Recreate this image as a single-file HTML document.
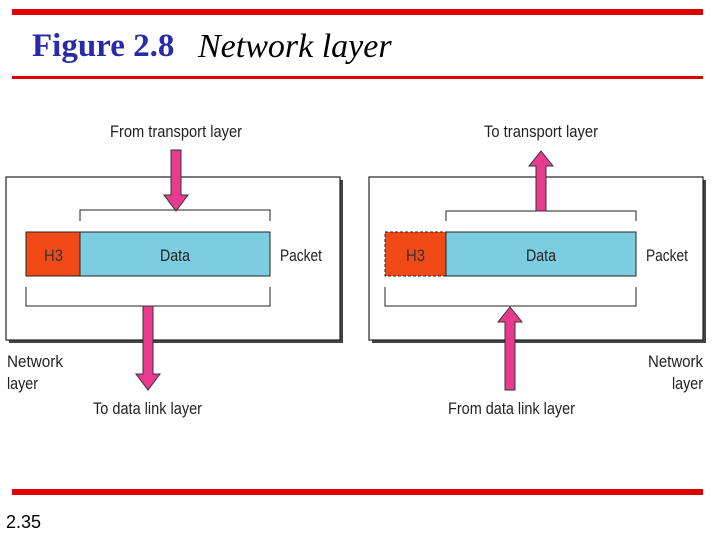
<!DOCTYPE html>
<html><head><meta charset="utf-8"><style>
body{margin:0;width:720px;height:540px;background:#fff;overflow:hidden;position:relative}
.t{position:absolute;white-space:nowrap}
</style></head><body>
<div style="position:absolute;left:12px;top:9px;width:691px;height:6px;background:#e00000"></div>
<div class="t" style="left:32px;top:28px;font:bold 33px 'Liberation Serif',serif;color:#2a2aa8">Figure 2.8</div>
<div class="t" style="left:198px;top:28px;font:italic 34px 'Liberation Serif',serif;color:#000">Network layer</div>
<div style="position:absolute;left:12px;top:76px;width:691px;height:3px;background:#e00000"></div>
<div style="position:absolute;left:12px;top:489px;width:691px;height:6px;background:#e00000"></div>
<div class="t" style="left:6px;top:512px;font:18px 'Liberation Sans',sans-serif">2.35</div>
<svg width="720" height="540" style="position:absolute;left:0;top:0" font-family="Liberation Sans, sans-serif" font-size="17">
<!-- left -->
<rect x="9" y="180" width="334" height="163" fill="#444"/>
<rect x="6" y="177" width="334" height="163" fill="#fff" stroke="#222" stroke-width="1.2"/>
<path d="M80 221V210H270V221" fill="none" stroke="#222"/>
<path d="M26 287V306H270V287" fill="none" stroke="#222"/>
<rect x="26" y="232" width="54" height="44" fill="#f24a17" stroke="#222"/>
<rect x="80" y="232" width="190" height="44" fill="#7dcde0" stroke="#222"/>
<text x="44" y="261" textLength="19" lengthAdjust="spacingAndGlyphs" fill="#333">H3</text>
<text x="160" y="261" textLength="30" lengthAdjust="spacingAndGlyphs" fill="#222">Data</text>
<text x="280" y="261" textLength="42" lengthAdjust="spacingAndGlyphs" fill="#222">Packet</text>
<polygon points="171,150 181,150 181,195 188,195 176,211 164,195 171,195" fill="#e83b8f" stroke="#333"/>
<polygon points="143,306 153,306 153,374 160,374 148,390 136,374 143,374" fill="#e83b8f" stroke="#333"/>
<text x="110" y="137" textLength="132" lengthAdjust="spacingAndGlyphs" fill="#222">From transport layer</text>
<text x="93" y="414" textLength="109" lengthAdjust="spacingAndGlyphs" fill="#222">To data link layer</text>
<text x="7" y="367" textLength="56" lengthAdjust="spacingAndGlyphs" fill="#222">Network</text>
<text x="7" y="389" textLength="31" lengthAdjust="spacingAndGlyphs" fill="#222">layer</text>
<!-- right -->
<rect x="372" y="180" width="334" height="163" fill="#444"/>
<rect x="369" y="177" width="334" height="163" fill="#fff" stroke="#222" stroke-width="1.2"/>
<path d="M446 221V211H636V221" fill="none" stroke="#222"/>
<path d="M385 287V306H636V287" fill="none" stroke="#222"/>
<rect x="385" y="232" width="61" height="44" fill="#f24a17" stroke="#222" stroke-dasharray="3,2"/>
<rect x="446" y="232" width="190" height="44" fill="#7dcde0" stroke="#222"/>
<text x="406" y="261" textLength="19" lengthAdjust="spacingAndGlyphs" fill="#333">H3</text>
<text x="526" y="261" textLength="30" lengthAdjust="spacingAndGlyphs" fill="#222">Data</text>
<text x="646" y="261" textLength="42" lengthAdjust="spacingAndGlyphs" fill="#222">Packet</text>
<polygon points="536,211 546,211 546,166 553,166 541,151 529,166 536,166" fill="#e83b8f" stroke="#333"/>
<polygon points="505,390 515,390 515,322 522,322 510,307 498,322 505,322" fill="#e83b8f" stroke="#333"/>
<text x="484" y="137" textLength="114" lengthAdjust="spacingAndGlyphs" fill="#222">To transport layer</text>
<text x="448" y="414" textLength="127" lengthAdjust="spacingAndGlyphs" fill="#222">From data link layer</text>
<text x="648" y="367" textLength="55" lengthAdjust="spacingAndGlyphs" fill="#222">Network</text>
<text x="672" y="389" textLength="31" lengthAdjust="spacingAndGlyphs" fill="#222">layer</text>
</svg>
</body></html>
